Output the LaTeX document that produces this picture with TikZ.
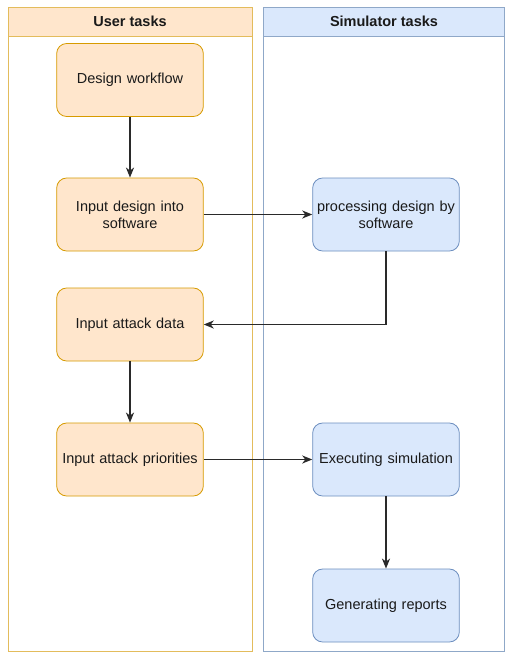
\documentclass[tikz,border=0pt]{standalone}
\usepackage{fontspec}
\setmainfont{Liberation Sans}
\usetikzlibrary{arrows.meta}
\definecolor{ofill}{HTML}{FFE6CC}
\definecolor{odraw}{HTML}{D79B00}
\definecolor{lodraw}{HTML}{E3BC5C}
\definecolor{bfill}{HTML}{DAE8FC}
\definecolor{bdraw}{HTML}{6C8EBF}
\definecolor{lbdraw}{HTML}{8FA8C8}
\definecolor{txt}{HTML}{1A1A1A}
\definecolor{conn}{HTML}{2A2A2A}
\tikzset{
  obox/.style={draw=odraw, fill=ofill, rounded corners=10pt, minimum width=146pt, minimum height=73pt, align=center, text width=140pt, font=\fontsize{14.5pt}{17pt}\selectfont, text=txt, line width=0.8pt},
  bbox/.style={obox, draw=bdraw, fill=bfill},
  flow/.style={draw=conn, line width=1.5pt, -{Stealth[length=10pt,width=8pt,inset=3pt]}},
  hdr/.style={font=\bfseries\fontsize{14.5pt}{17pt}\selectfont, text=txt}
}
\begin{document}
\begin{tikzpicture}[x=1pt,y=-1pt]
\useasboundingbox (0,0) rectangle (505,654);
\clip (0,0) rectangle (505,654);
\fill[white] (0,0) rectangle (505,654);
% lanes
\draw[lodraw, line width=0.8pt, fill=ofill] (8,7) rectangle (252,36);
\draw[lodraw, line width=0.8pt] (8,36) rectangle (252,651);
\draw[lbdraw, line width=0.8pt, fill=bfill] (263,7) rectangle (504,36);
\draw[lbdraw, line width=0.8pt] (263,36) rectangle (504,651);
\node[hdr] (h1) at (130,21.5) {User tasks};
\node[hdr] (h2) at (384,21.5) {Simulator tasks};
% nodes
\node[obox] (dw) at (130,80) {Design workflow};
\node[obox] (ids) at (130,214.5) {Input design into\\software};
\node[bbox] (pds) at (386,214.5) {processing design by\\software};
\node[obox] (iad) at (130,324.5) {Input attack data};
\node[obox] (iap) at (130,459.5) {Input attack priorities};
\node[bbox] (es) at (386,459.5) {Executing simulation};
\node[bbox] (gr) at (386,605.5) {Generating reports};
% connectors
\draw[flow] (dw) -- (ids);
\draw[flow] (ids) -- (pds);
\draw[flow] (pds.south) |- (iad.east);
\draw[flow] (iad) -- (iap);
\draw[flow] (iap) -- (es);
\draw[flow] (es) -- (gr);
\end{tikzpicture}
\end{document}
